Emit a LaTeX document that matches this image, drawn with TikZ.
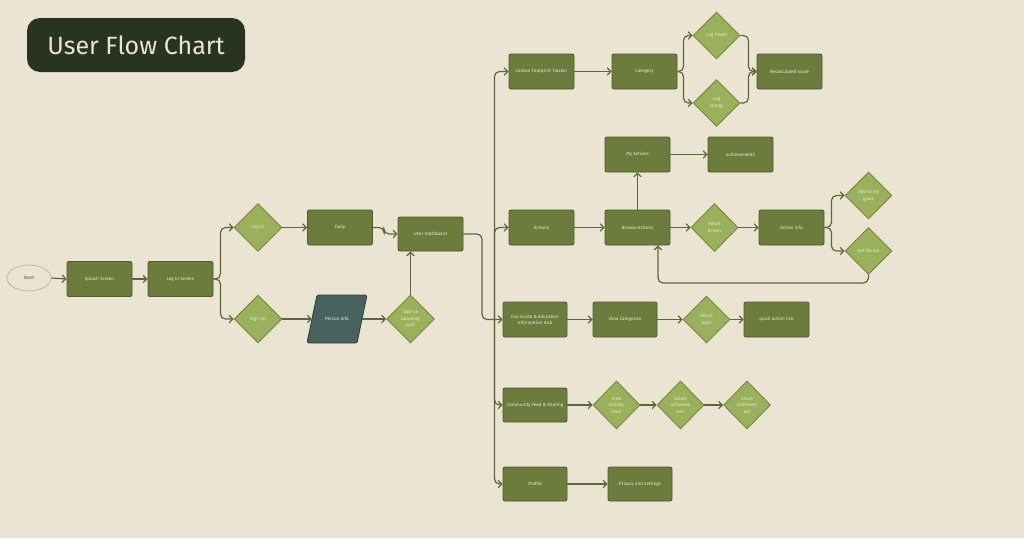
\documentclass[tikz,border=0pt]{standalone}
\usepackage{fontspec}
\setmainfont{Fira Sans}
\usetikzlibrary{shapes.geometric,arrows.meta,calc}
\definecolor{bg}{RGB}{235,228,210}
\definecolor{titlebg}{RGB}{40,51,33}
\definecolor{boxfill}{RGB}{107,124,61}
\definecolor{boxline}{RGB}{78,92,42}
\definecolor{diafill}{RGB}{155,176,90}
\definecolor{dialine}{RGB}{118,138,60}
\definecolor{pfill}{RGB}{72,98,96}
\definecolor{pline}{RGB}{48,68,66}
\definecolor{linec}{RGB}{92,104,58}
\definecolor{txt}{RGB}{236,234,218}
\definecolor{startline}{RGB}{190,184,162}
\begin{document}
\begin{tikzpicture}[x=1pt,y=-1pt,
  box/.style={draw=boxline, fill=boxfill, rounded corners=2pt, line width=0.9pt,
    minimum width=65pt, minimum height=35pt, inner sep=1pt,
    font=\fontsize{4.6}{5.7}\selectfont, text=txt, align=center},
  dia/.style={diamond, draw=dialine, fill=diafill, line width=0.9pt,
    minimum width=48pt, minimum height=48pt, inner sep=0pt,
    font=\fontsize{4.6}{6.6}\selectfont, text=txt, align=center},
  conn/.style={draw=linec, line width=1.2pt, rounded corners=5pt,
    -{Straight Barb[length=3.6pt,width=7.5pt]}}
]
\useasboundingbox (0,0) rectangle (1024,538);
\fill[bg] (0,0) rectangle (1024,538);

% title
\node[fill=titlebg, rounded corners=13pt, minimum width=218pt, minimum height=54pt,
  text=bg, font=\fontsize{25}{28}\selectfont, inner sep=0pt] (title) at (136,45) {User Flow Chart};

% left part
\node[ellipse, draw=startline, line width=0.8pt, fill=bg, minimum width=44pt, minimum height=26pt,
  inner sep=0pt, font=\fontsize{4.6}{5.5}\selectfont, text=black!75] (start) at (29,278) {Start};
\node[box] (splash) at (99.5,279) {Splash Screen};
\node[box] (lis) at (180.5,279) {Log In Screen};
\node[dia] (login) at (258,227.5) {Log In};
\node[dia] (signup) at (258,319) {Sign Up};
\node[box] (daily) at (340,227.5) {Daily};
\node[box, minimum height=34pt] (dash) at (430.5,234) {User Dashboard};
\fill[pfill, draw=pline, line width=0.9pt, rounded corners=1.5pt]
  (307,343) -- (317,295) -- (367,295) -- (357,343) -- cycle;
\node[minimum width=50pt, minimum height=48pt, inner sep=0pt,
  font=\fontsize{4.6}{5.7}\selectfont, text=txt] (pinfo) at (337,319) {Person Info};
\node[dia] (quiz) at (410.5,319) {Take on\\boarding\\quiz};

% right part
\node[box] (cft) at (541.5,71.5) {Carbon Footprint Tracker};
\node[box] (cat) at (644.5,71.5) {Category};
\node[dia, minimum width=47pt, minimum height=47pt] (lt) at (716.5,35.5) {Log Travel};
\node[dia, minimum width=47pt, minimum height=47pt] (le) at (716.5,103) {Log\\Energy};
\node[box] (rec) at (789.5,71.5) {Recalculated score};

\node[box] (ma) at (637.5,154.5) {My Actions};
\node[box] (ach) at (740.5,154.5) {achievements};
\node[box] (act) at (541.5,227.5) {Actions};
\node[box] (ba) at (637.5,227.5) {Browse Actions};
\node[dia, minimum width=47pt] (sa) at (714.5,227.5) {Select\\Action};
\node[box] (ai) at (791.5,227.5) {Action info};
\node[dia, minimum width=47pt, minimum height=47pt] (goals) at (868.5,195.5) {Add to my\\goals};
\node[dia, minimum width=47pt, minimum height=47pt] (nfm) at (868.5,251) {Not for me};

\node[box, minimum width=64pt] (eco) at (535,319.5) {Eco-Guide \& Education\\Information Hub};
\node[box, minimum width=64pt] (vc) at (625,319.5) {View Categories};
\node[dia, minimum width=47pt, minimum height=47pt] (st) at (706.5,319.5) {Select\\topic};
\node[box] (qal) at (776.5,319.5) {quick action link};

\node[box, minimum width=64pt, minimum height=34pt] (com) at (535,405) {Community Feed \& Sharing};
\node[dia, minimum width=47pt] (vaf) at (616.5,405) {View\\Activity\\Feed};
\node[dia, minimum width=47pt] (sach) at (680.5,405) {Select\\achievem\\ent};
\node[dia, minimum width=47pt] (shach) at (747,405) {Share\\achievem\\ent};

\node[box, minimum width=64pt, minimum height=34pt] (prof) at (535,484) {Profile};
\node[box, minimum width=64pt, minimum height=34pt] (priv) at (640,484) {Privacy and settings};

% connectors left
\draw[conn] (start.east) -- (splash.west);
\draw[conn] (splash.east) -- (lis.west);
\draw[conn] (lis.east) -- ++(7,0) |- (login.west);
\draw[conn] (lis.east) -- ++(7,0) |- (signup.west);
\draw[conn] (login.east) -- (daily.west);
\draw[conn] (signup.east) -- (pinfo.west);
\draw[conn] (pinfo.east) -- (quiz.west);
\draw[conn] (daily.east) -- ++(11,0) |- (dash.west);
\draw[conn] (quiz.north) -- (quiz.north |- dash.south);
\draw[conn] (dash.east) -| (482,319.5) -- (eco.west);

% trunk
\coordinate (tr) at (494.5,320);
\draw[conn] (tr) |- (cft.west);
\draw[conn] (tr) |- (act.west);
\draw[conn] (tr) |- (com.west);
\draw[conn] (tr) |- (prof.west);

% carbon row
\draw[conn] (cft.east) -- (cat.west);
\draw[conn] (cat.east) -- ++(6,0) |- (lt.west);
\draw[conn] (cat.east) -- ++(6,0) |- (le.west);
\draw[conn] (lt.east) -- ++(8,0) |- (rec.west);
\draw[conn] (le.east) -- ++(8,0) |- (rec.west);

% actions row
\draw[conn] (act.east) -- (ba.west);
\draw[conn] (ba.north) -- (ma.south);
\draw[conn] (ma.east) -- (ach.west);
\draw[conn] (ba.east) -- (sa.west);
\draw[conn] (sa.east) -- (ai.west);
\draw[conn] (ai.east) -- ++(7,0) |- (goals.west);
\draw[conn] (ai.east) -- ++(7,0) |- (nfm.west);
\coordinate (lp) at (658,283);
\draw[conn] (nfm.south) |- (lp) -- (lp |- ba.south);

% eco row
\draw[conn] (eco.east) -- (vc.west);
\draw[conn] (vc.east) -- (st.west);
\draw[conn] (st.east) -- (qal.west);

% community row
\draw[conn] (com.east) -- (vaf.west);
\draw[conn] (vaf.east) -- (sach.west);
\draw[conn] (sach.east) -- (shach.west);

% profile row
\draw[conn] (prof.east) -- (priv.west);
\end{tikzpicture}
\end{document}
